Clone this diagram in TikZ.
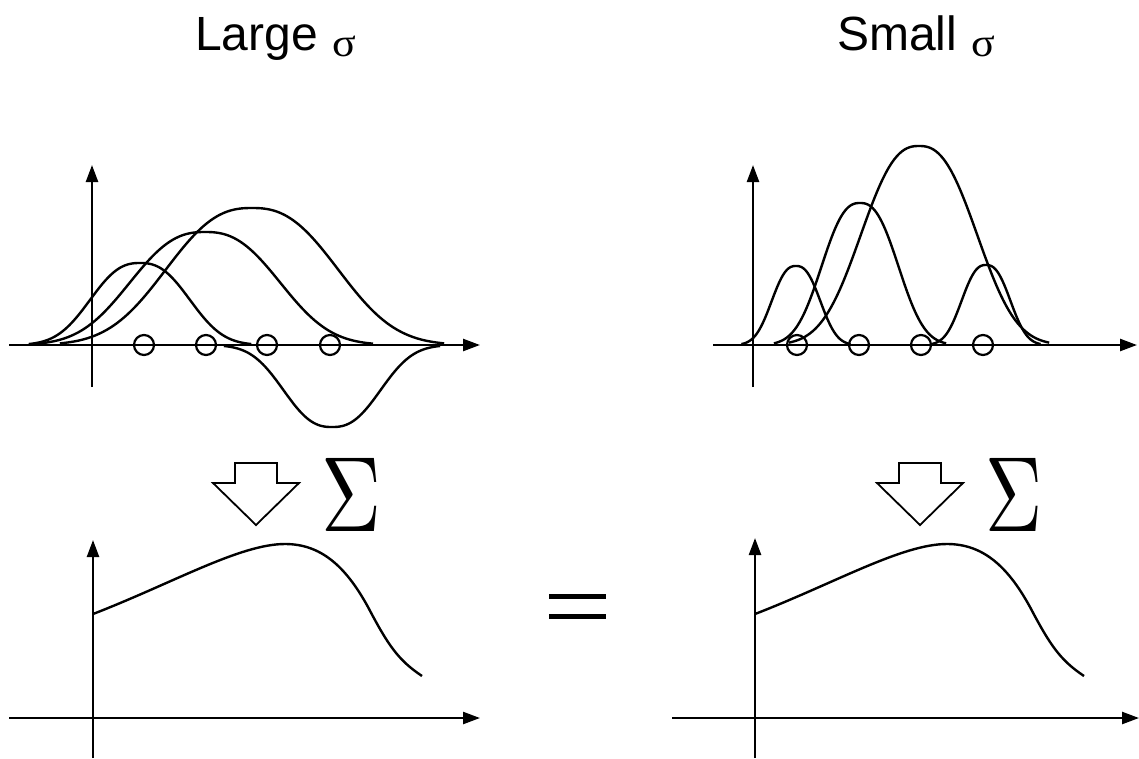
\documentclass[tikz,border=0pt]{standalone}
\usepackage{fontspec}
\setmainfont{Liberation Sans}
\newfontfamily\serifgr{Liberation Serif}
\usetikzlibrary{arrows.meta}
\newcommand\bumpcurve[4]{%
  \pgfmathsetmacro\bumplo{#1-2.1*#2}%
  \pgfmathsetmacro\bumphi{#1+2.1*#2}%
  \draw[curve, domain=\bumplo:\bumphi, samples=100, smooth, variable=\x]
    plot (\x, {#4-(#3)*exp(-0.6931*((abs(\x-#1)/#2)^2.5))});
}
\begin{document}
\begin{tikzpicture}[x=1pt,y=-1pt,
  axis/.style={line width=2.4pt,-{Triangle[length=17pt,width=12pt]}},
  curve/.style={line width=2.4pt},
  knot/.style={line width=2.2pt},
  blockarrow/.style={line width=1.8pt, line join=miter},
  title/.style={inner sep=0pt, anchor=base west, font=\fontsize{48}{48}\selectfont},
  sig/.style={inner sep=0pt, anchor=base west, font=\serifgr\fontsize{40}{40}\selectfont},
  bigsum/.style={inner sep=0pt, anchor=base west},
]
\useasboundingbox (0,0) rectangle (1139,758);

% titles
\node[title] (tlarge) at (195,50) {Large};
\node[sig] (tlsig) at (332,56) {\scalebox{1.1}[1]{σ}};
\node[title] (tsmall) at (837,50) {Small};
\node[sig] (tssig) at (971,56) {\scalebox{1.1}[1]{σ}};

% ---------- top left ----------
\draw[axis] (92,387) -- (92,165);
\draw[axis] (9,345) -- (480,345);
\bumpcurve{140}{53}{82}{345}
\bumpcurve{205}{80}{113}{345}
\bumpcurve{252}{91.5}{137}{345}
\bumpcurve{332}{51.5}{-82}{345}
\foreach \cx in {144,206,267,330} \draw[knot] (\cx,345) circle[radius=10];

% ---------- top right ----------
\draw[axis] (753,387) -- (753,165);
\draw[axis] (713,345) -- (1137,345);
\bumpcurve{796}{26}{79}{345}
\bumpcurve{860}{41}{142}{345}
\bumpcurve{919}{62}{199}{345}
\bumpcurve{986}{26}{80}{345}
\foreach \cx in {797,859,921,983} \draw[knot] (\cx,345) circle[radius=10];

% ---------- block arrows and sums ----------
\draw[blockarrow] (235,463) -- (277,463) -- (277,483) -- (299,483) -- (256,525) -- (213,483) -- (235,483) -- cycle;
\draw[blockarrow] (899,463) -- (941,463) -- (941,483) -- (963,483) -- (920,525) -- (877,483) -- (899,483) -- cycle;
\node[bigsum] (suml) at (321,531) {\scalebox{8.3}[10.7]{$\Sigma$}};
\node[bigsum] (sumr) at (985,531) {\scalebox{7.9}[10.7]{$\Sigma$}};

% ---------- equal sign ----------
\fill (549,594) rectangle (606,599);
\fill (549,614) rectangle (606,619);

% ---------- bottom left ----------
\draw[axis] (93,758) -- (93,540);
\draw[axis] (9,718) -- (480,718);
\begin{scope}[shift={(93,0)}]
\draw[curve] (0,614) .. controls (80,583) and (147,544) .. (192,544)
  .. controls (227,544) and (252,565) .. (275,607)
  .. controls (295,645) and (305,660) .. (329,676);
\end{scope}

% ---------- bottom right ----------
\draw[axis] (755,758) -- (755,538);
\draw[axis] (672,718) -- (1139,718);
\begin{scope}[shift={(755,0)}]
\draw[curve] (0,614) .. controls (80,583) and (147,544) .. (192,544)
  .. controls (227,544) and (252,565) .. (275,607)
  .. controls (295,645) and (305,660) .. (329,676);
\end{scope}
\end{tikzpicture}
\end{document}
